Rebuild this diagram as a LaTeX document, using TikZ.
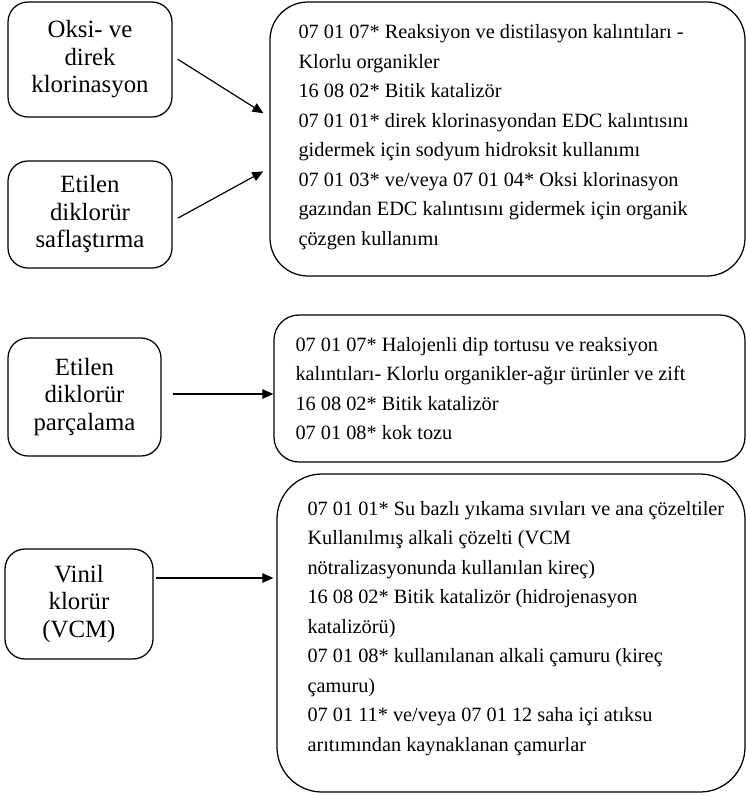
\documentclass[tikz,border=0pt]{standalone}
\usepackage{fontspec}
\setmainfont{Liberation Serif}
\usetikzlibrary{arrows.meta,calc}
\begin{document}
\begin{tikzpicture}[x=1pt,y=-1pt,
  procbox/.style={draw, line width=1.25pt, rounded corners=20pt, inner sep=0pt,
    align=center, font=\fontsize{24.8}{27.5}\selectfont},
  wastebox/.style={draw, line width=1.25pt, inner sep=0pt},
  wastetext/.style={inner sep=0pt, align=left, font=\fontsize{20.3}{29.5}\selectfont},
  arr/.style={line width=1.2pt, -{Triangle[length=11pt,width=9.5pt]}}]
\useasboundingbox (0,0) rectangle (746,796);

% process steps
\node[procbox, minimum width=164pt, minimum height=115pt] (A) at (90,59.5)
  {Oksi- ve\\direk\\klorinasyon};
\node[procbox, minimum width=164pt, minimum height=107pt] (B) at (90,214.5)
  {\raisebox{-5pt}{\parbox{150pt}{\centering Etilen\\diklorür\\saflaştırma}}};
\node[procbox, minimum width=153pt, minimum height=118pt] (C) at (84.5,397)
  {Etilen\\diklorür\\parçalama};
\node[procbox, minimum width=148pt, minimum height=110pt] (D) at (79,604)
  {Vinil\\klorür\\(VCM)};

% waste lists
\node[wastebox, rounded corners=38pt, minimum width=475pt, minimum height=274pt] (R1) at (507.5,139) {};
\node[wastetext, anchor=west] (T1) at ([xshift=29pt,yshift=2pt]R1.west)
  {07 01 07* Reaksiyon ve distilasyon kalıntıları -\\
   Klorlu organikler\\
   16 08 02* Bitik katalizör\\
   07 01 01* direk klorinasyondan EDC kalıntısını\\
   gidermek için sodyum hidroksit kullanımı\\
   07 01 03* ve/veya 07 01 04* Oksi klorinasyon\\
   gazından EDC kalıntısını gidermek için organik\\
   çözgen kullanımı};

\node[wastebox, rounded corners=25pt, minimum width=471pt, minimum height=147pt] (R2) at (509.5,388.5) {};
\node[wastetext, anchor=west] (T2) at ([xshift=22pt]R2.west)
  {07 01 07* Halojenli dip tortusu ve reaksiyon\\
   kalıntıları- Klorlu organikler-ağır ürünler ve zift\\
   16 08 02* Bitik katalizör\\
   07 01 08* kok tozu};

\node[wastebox, rounded corners=45pt, minimum width=468pt, minimum height=318pt] (R3) at (511,633) {};
\node[wastetext, anchor=west] (T3) at ([xshift=31pt,yshift=4.5pt]R3.west)
  {07 01 01* Su bazlı yıkama sıvıları ve ana çözeltiler\\
   Kullanılmış alkali çözelti (VCM\\
   nötralizasyonunda kullanılan kireç)\\
   16 08 02* Bitik katalizör (hidrojenasyon\\
   katalizörü)\\
   07 01 08* kullanılanan alkali çamuru (kireç\\
   çamuru)\\
   07 01 11* ve/veya 07 01 12 saha içi atıksu\\
   arıtımından kaynaklanan çamurlar};

% connectors
\draw[arr, shorten <=6pt, shorten >=7pt] ($(A.east)+(0,-3.5)$) -- ($(R1.west)+(0,-22)$);
\draw[arr, shorten <=6pt, shorten >=7pt] ($(B.east)+(0,6.5)$) -- ($(R1.west)+(0,29)$);
\draw[arr, shorten <=11pt, shorten >=0pt] ($(C.east)+(0,-3)$) -- ($(R2.west |- C.east)+(0,-3)$);
\draw[arr, shorten <=2pt, shorten >=3pt] ($(D.east)+(0,-26)$) -- ($(R3.west |- D.east)+(0,-26)$);
\end{tikzpicture}
\end{document}
